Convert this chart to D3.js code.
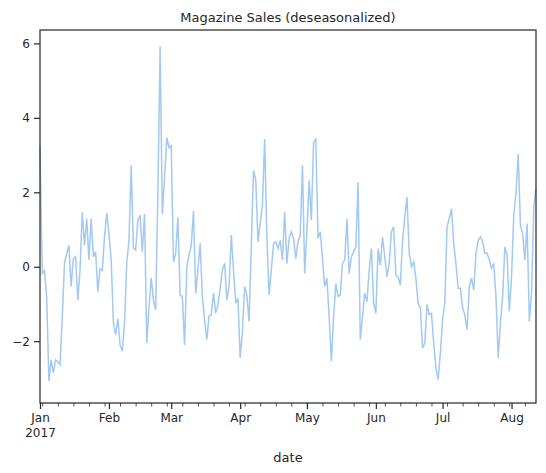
<!DOCTYPE html>
<html><head><meta charset="utf-8">
<script src="https://cdn.jsdelivr.net/npm/d3@7"></script>
<style>body{margin:0;background:#fff}text{font-family:"DejaVu Sans",sans-serif;fill:#262626}</style>
</head><body><svg id="chart" width="546" height="473"></svg>
<script>
let start_date = new Date(2017, 0, 1);
let sales = [3.25,-0.18,-0.1,-0.8,-3.07,-2.5,-2.85,-2.5,-2.55,-2.63,-1.4,0.1,0.35,0.57,-0.53,0.22,0.27,-0.9,-0.1,1.47,0.57,1.29,0.18,1.29,0.27,0.4,-0.67,-0.05,-0.1,0.8,1.44,0.9,0.18,
 -1.5,-1.83,-1.4,-2.1,-2.27,-1.5,0.1,0.7,2.72,0.5,0.45,1.25,1.38,0.4,1.42,-2.05,-1.1,-0.3,-0.9,-1.16,2.0,5.92,1.42,2.4,3.47,3.2,3.25,0.13,0.36,1.33,-0.76,-0.8,-2.1,0.0,0.31,0.58,1.5,-0.72,-0.1,0.63,
 -0.8,-1.43,-1.96,-1.33,-1.29,-0.71,-1.24,-1.02,-0.58,-0.09,0.09,-0.89,-0.53,0.85,-0.09,-0.98,-0.85,-2.45,-1.74,-0.53,-0.76,-1.47,0.6,2.58,2.35,0.67,1.16,1.65,3.43,0.8,-0.76,-0.09,0.62,0.67,0.49,0.71,
 0.18,1.47,0.09,0.76,0.94,0.76,0.22,0.67,0.85,2.72,-0.18,0.94,2.32,1.25,3.34,3.43,0.76,0.94,0.22,-0.53,-0.31,-1.34,-2.54,-1.34,-0.45,-0.8,-0.76,0.09,0.18,1.29,-0.18,0.27,0.4,0.53,2.27,
 -1.96,-1.34,-0.71,-0.94,-0.09,0.49,-0.98,-1.25,0.49,0.04,0.8,0.27,-0.27,0.09,0.94,1.07,-0.22,-0.27,-0.49,0.71,1.34,1.87,0.36,0.0,0.13,-0.31,-0.98,-1.11,-2.18,-2.05,-1.02,-1.29,-1.25,-2.05,-2.72,-3.03,-2.31,-1.42,-0.98,
 1.07,1.29,1.56,0.62,0.09,-0.58,-0.58,-1.11,-1.29,-1.69,-0.53,-0.31,-0.62,0.36,0.71,0.8,0.67,0.36,0.37,0.18,-0.04,0.09,-0.8,-2.45,-1.51,-0.8,0.53,0.31,-1.2,-0.27,1.38,1.96,3.03,1.11,0.89,0.18,1.16,-1.47,-0.71,1.6,2.1];
let y_ticks = [-2, 0, 2, 4, 6];
let month_labels = ['Jan', 'Feb', 'Mar', 'Apr', 'May', 'Jun', 'Jul', 'Aug'];

let dates = sales.map((v, i) => d3.timeDay.offset(start_date, i));
let m_left = 40, m_right = 536, m_top = 30, m_bottom = 403;
let svg = d3.select('#chart');
let x = d3.scaleTime().domain([dates[0], dates[dates.length - 1]]).range([m_left, m_right]);
let y = d3.scaleLinear().domain([-3.66, 6.36]).range([m_bottom, m_top]);

// minor weekly ticks
svg.append('g')
    .attr('transform', `translate(0, ${m_bottom})`)
    .call(d3.axisBottom(x).ticks(d3.timeMonday).tickSize(3.5).tickFormat(''))
    .call(g => g.select('.domain').remove())
    .selectAll('line').attr('stroke', '#262626').attr('stroke-width', 0.8);

let months = d3.timeMonth.range(start_date, d3.timeDay.offset(x.domain()[1], 1));
let xg = svg.append('g')
    .attr('transform', `translate(0, ${m_bottom})`)
    .call(d3.axisBottom(x).tickValues(months).tickSize(6).tickPadding(4)
        .tickFormat((d, i) => month_labels[i]));
xg.select('.domain').remove();
xg.selectAll('line').attr('stroke', '#262626').attr('stroke-width', 1.2);
xg.selectAll('text').attr('font-size', 12);
xg.selectAll('.tick').filter((d, i) => i == 0)
    .append('text').attr('y', 34).attr('font-size', 12).attr('text-anchor', 'middle').text('2017');

let yg = svg.append('g')
    .attr('transform', `translate(${m_left}, 0)`)
    .call(d3.axisLeft(y).tickValues(y_ticks).tickSize(6).tickPadding(4));
yg.select('.domain').remove();
yg.selectAll('line').attr('stroke', '#262626').attr('stroke-width', 1.2);
yg.selectAll('text').attr('font-size', 12);

svg.append('path')
    .datum(sales)
    .attr('fill', 'none')
    .attr('stroke', '#a1c9f4')
    .attr('stroke-width', 1.5)
    .attr('d', d3.line().x((d, i) => x(dates[i])).y(d => y(d)));

svg.append('rect')
    .attr('x', m_left).attr('y', m_top)
    .attr('width', m_right - m_left).attr('height', m_bottom - m_top)
    .attr('fill', 'none').attr('stroke', '#262626').attr('stroke-width', 1.2);

svg.append('text').attr('x', (m_left + m_right) / 2).attr('y', 22)
    .attr('text-anchor', 'middle').attr('font-size', 13).text('Magazine Sales (deseasonalized)');
svg.append('text').attr('x', (m_left + m_right) / 2).attr('y', 462)
    .attr('text-anchor', 'middle').attr('font-size', 13).text('date');
</script></body></html>
